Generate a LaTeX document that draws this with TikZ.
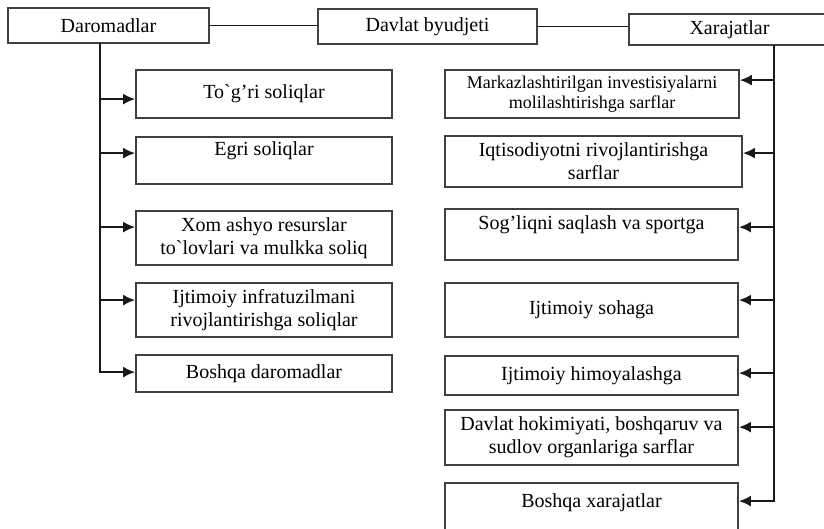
\documentclass[tikz,border=0pt]{standalone}
\usepackage{fontspec}
\setmainfont{Liberation Serif}
\usetikzlibrary{arrows.meta}

\begin{document}
\begin{tikzpicture}[x=1pt,y=-1pt,>={Latex[length=12pt,width=11pt]},
    box/.style={draw=black!75,line width=1.8pt,align=center,inner sep=1pt,
        font=\fontsize{20}{23}\selectfont},
    lbox/.style={box,minimum width=256pt},
    rbox/.style={box,minimum width=293pt},
    link/.style={draw=black!90,line width=1.8pt}]
        \useasboundingbox (0,0) rectangle (824,528);
        % top row
        \node[box,minimum width=201pt,minimum height=35pt] (dar) at (108.5,25.5) {Daromadlar};
        \node[box,minimum width=219pt,minimum height=35pt] (dav) at (427.5,26.5) {Davlat byudjeti};
        \node[box,minimum width=201pt,minimum height=31pt] (xar) at (729.5,29.5) {Xarajatlar};
        \draw[link] (dar.east)--(dar.east -| dav.west);
        \draw[link] (dav.east)--(dav.east -| xar.west);
        % daromadlar
        \node[lbox,minimum height=48pt] (t1) at (264,94) {To\textasciigrave g’ri soliqlar};
        \node[lbox,minimum height=47pt] (t2) at (264,160.5) {Egri soliqlar\\ \mbox{}};
        \node[lbox,minimum height=54pt] (t3) at (264,238) {Xom ashyo resurslar\\ to\textasciigrave lovlari va mulkka soliq};
        \node[lbox,minimum height=54pt] (t4) at (264,310) {Ijtimoiy infratuzilmani\\ rivojlantirishga soliqlar};
        \node[lbox,minimum height=37pt] (t5) at (264,373.5) {Boshqa daromadlar};
        \coordinate (ltr) at (100,43);
        \foreach \b/\d in {t1/30pt,t2/17pt,t3/17pt,t4/18pt,t5/18pt}
            \coordinate (\b-in) at ([yshift=-\d]\b.north west);
        \draw[link,->] (ltr) |- (t5-in);
        \foreach \b in {t1,t2,t3,t4}
            \draw[link,->] (ltr |- \b-in)--(\b-in);
        % xarajatlar
        \node[box,minimum width=294pt,minimum height=48pt,font=\fontsize{18}{20}\selectfont] (r1) at (592,94) {Markazlashtirilgan investisiyalarni\\ molilashtirishga sarflar};
        \node[box,minimum width=297pt,minimum height=51pt] (r2) at (593.5,161.5) {Iqtisodiyotni rivojlantirishga\\ sarflar};
        \node[rbox,minimum height=51pt] (r3) at (591.5,234.5) {Sog’liqni saqlash va sportga\\ \mbox{}};
        \node[rbox,minimum height=54pt] (r4) at (591.5,310) {Ijtimoiy sohaga};
        \node[rbox,minimum height=39pt] (r5) at (591.5,375.5) {Ijtimoiy himoyalashga};
        \node[rbox,minimum height=55pt] (r6) at (591.5,437.5) {Davlat hokimiyati, boshqaruv va\\ sudlov organlariga sarflar};
        \node[rbox,minimum height=52pt,text depth=16pt] (r7) at (591.5,509) {Boshqa xarajatlar};
        \coordinate (rtr) at (774,45);
        \foreach \b/\d in {r1/11pt,r2/18pt,r3/19pt,r4/18pt,r5/18pt,r6/18pt,r7/19pt}
            \coordinate (\b-in) at ([yshift=-\d]\b.north east);
        \draw[link,->] (rtr) |- (r7-in);
        \foreach \b in {r1,r2,r3,r4,r5,r6}
            \draw[link,->] (rtr |- \b-in)--(\b-in);
    \end{tikzpicture}
\end{document}
